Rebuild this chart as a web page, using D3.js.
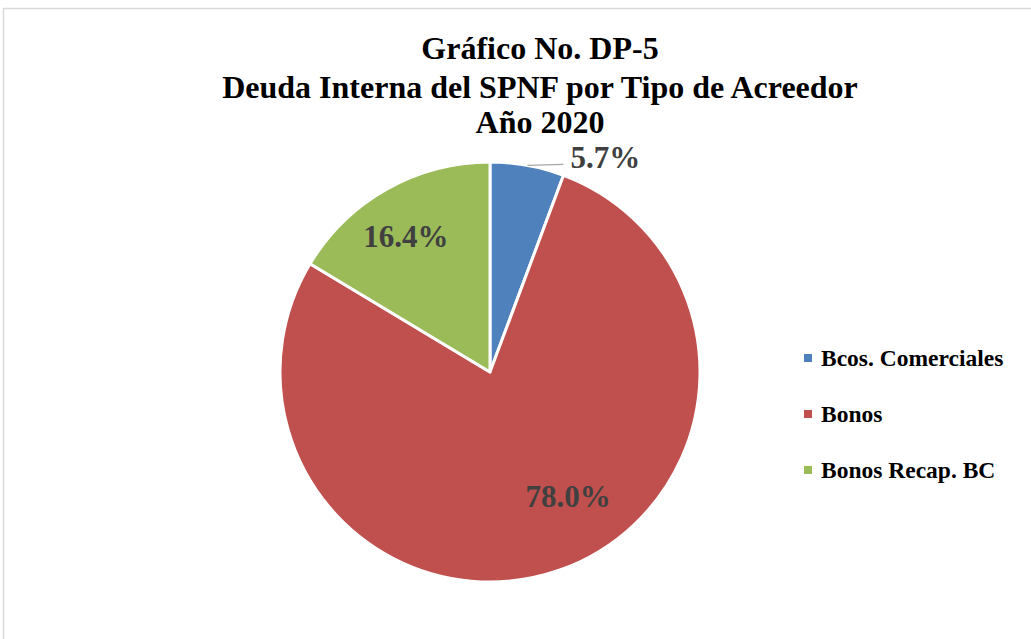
<!DOCTYPE html>
<html><head><meta charset="utf-8">
<script src="https://cdn.jsdelivr.net/npm/d3@7"></script>
<style>body{margin:0;background:#fff}svg{display:block}</style>
</head><body><svg id="c" width="1031" height="639"></svg>
<script>
const categories = ["Bcos. Comerciales", "Bonos", "Bonos Recap. BC"];
const values = [5.7, 78.0, 16.4];
const labels = ["5.7%", "78.0%", "16.4%"];
const colors = ["#4F81BD", "#C0504D", "#9BBB59"];
const titleLines = ["Gráfico No. DP-5", "Deuda Interna del SPNF por Tipo de Acreedor", "Año 2020"];

const svg = d3.select("#c");
const font = "'Liberation Serif','Times New Roman',serif";
svg.append("rect").attr("x",3.5).attr("y",8.5).attr("width",1040).attr("height",640)
  .attr("fill","#fff").attr("stroke","#d9d9d9").attr("stroke-width",1.5);

svg.append("g").selectAll("text").data(titleLines).join("text")
  .attr("x",540).attr("y",(d,i)=>[59,98,133][i]).attr("text-anchor","middle")
  .attr("font-family",font).attr("font-weight","bold").attr("font-size",32).attr("fill","#000")
  .text(d=>d);

const cx=490, cy=372, r=210;
const pie = d3.pie().sort(null).value(d=>d);
const arcs = pie(values);
const arc = d3.arc().innerRadius(0).outerRadius(r);
const g = svg.append("g").attr("transform",`translate(${cx},${cy})`);
g.selectAll("path").data(arcs).join("path").attr("d",arc)
  .attr("fill",(d,i)=>colors[i]).attr("stroke","#fff").attr("stroke-width",3).attr("stroke-linejoin","round");

// label placement (Excel best-fit): radius factor and angle shift per slice
const labelR = [1.1, 0.70, 0.76];
const labelShift = [0.2, -0.225, -0.04];
const pos = arcs.map((a,i)=>{
  const m=(a.startAngle+a.endAngle)/2 + labelShift[i];
  return [Math.sin(m)*r*labelR[i], -Math.cos(m)*r*labelR[i]];
});
pos[0] = [pos[0][0]+30, pos[0][1]];
const a0 = arcs[0]; const mid=(a0.startAngle+a0.endAngle)/2;
const px = Math.sin(mid)*r, py=-Math.cos(mid)*r;
g.append("path").attr("d",`M${px},${py}L${pos[0][0]-42},${py-1}`).attr("stroke","#a6a6a6").attr("stroke-width",1.3).attr("fill","none");
g.selectAll("text.lbl").data(arcs).join("text").attr("class","lbl")
  .attr("x",(d,i)=>pos[i][0]).attr("y",(d,i)=>pos[i][1]+11).attr("text-anchor","middle")
  .attr("font-family",font).attr("font-weight","bold").attr("font-size",31).attr("fill","#404040")
  .text((d,i)=>labels[i]);

const lg = svg.append("g").selectAll("g").data(categories).join("g")
  .attr("transform",(d,i)=>`translate(804,${358+i*56})`);
lg.append("rect").attr("x",0).attr("y",-4).attr("width",8).attr("height",8).attr("fill",(d,i)=>colors[i]);
lg.append("text").attr("x",17).attr("y",8).attr("font-family",font).attr("font-weight","bold")
  .attr("font-size",23.5).attr("fill","#000").text(d=>d);
</script></body></html>
